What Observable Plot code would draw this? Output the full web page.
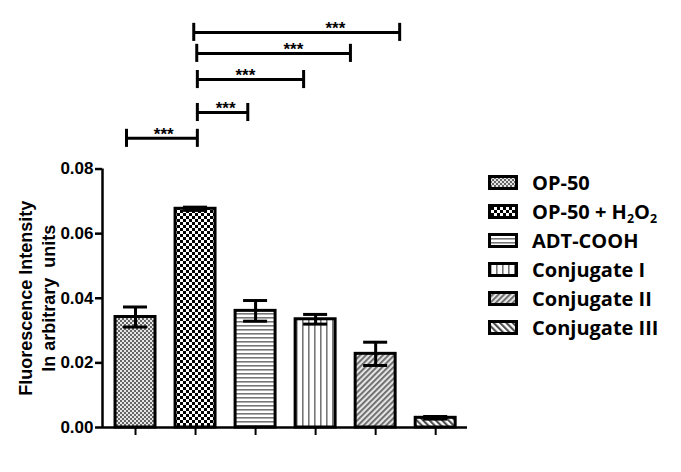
<!DOCTYPE html>
<html><head><meta charset="utf-8">
<script src="https://cdn.jsdelivr.net/npm/d3@7"></script>
<script src="https://cdn.jsdelivr.net/npm/@observablehq/plot@0.6"></script>
<style>
body{margin:0;background:#fff;}
#wrap{position:relative;width:681px;height:472px;}
#legend{position:absolute;left:488px;top:168px;font-family:"Open Sans",sans-serif;font-weight:700;font-size:20px;color:#000;}
.row{display:flex;align-items:center;height:29px;white-space:nowrap;}
.row svg{margin-right:14px;flex:none;}
.row sub{font-size:0.62em;vertical-align:-0.3em;line-height:0;}
</style></head><body>
<svg width="0" height="0" style="position:absolute"><defs>
<pattern id="p-op50" width="4" height="4" patternUnits="userSpaceOnUse"><rect width="4" height="4" fill="#e6e6e6"/><rect width="2" height="2" fill="#666"/><rect x="2" y="2" width="2" height="2" fill="#666"/></pattern>
<pattern id="p-h2o2" width="6" height="6" patternUnits="userSpaceOnUse"><rect width="6" height="6" fill="#fff"/><rect width="3" height="3" fill="#000"/><rect x="3" y="3" width="3" height="3" fill="#000"/></pattern>
<pattern id="p-adt" width="4" height="4" patternUnits="userSpaceOnUse"><rect width="4" height="4" fill="#fff"/><rect y="1" width="4" height="1.6" fill="#777"/></pattern>
<pattern id="p-conj1" width="6" height="6" patternUnits="userSpaceOnUse"><rect width="6" height="6" fill="#fff"/><rect x="2" width="1.6" height="6" fill="#777"/></pattern>
<pattern id="p-conj2" width="4" height="4" patternUnits="userSpaceOnUse" patternTransform="rotate(45)"><rect width="4" height="4" fill="#e4e4e4"/><rect x="1" width="1.8" height="4" fill="#666"/></pattern>
<pattern id="p-conj3" width="4.5" height="4.5" patternUnits="userSpaceOnUse" patternTransform="rotate(-45)"><rect width="4.5" height="4.5" fill="#fff"/><rect x="1" width="2" height="4.5" fill="#444"/></pattern>
</defs></svg>
<div id="wrap"><div id="legend"></div></div>
<script>
const groups = ["OP-50", "OP-50 + H2O2", "ADT-COOH", "Conjugate I", "Conjugate II", "Conjugate III"];
const legendLabels = ["OP-50", "OP-50 + H<sub>2</sub>O<sub>2</sub>", "ADT-COOH", "Conjugate I", "Conjugate II", "Conjugate III"];
const values = [0.0342, 0.0677, 0.0361, 0.0335, 0.0228, 0.0030];
const errors = [0.0031, 0.0005, 0.0032, 0.0015, 0.0036, 0.0004];
const patterns = ["p-op50", "p-h2o2", "p-adt", "p-conj1", "p-conj2", "p-conj3"];
const yTicks = [0, 0.02, 0.04, 0.06, 0.08];
// significance brackets (x in bar-index units, y in data units)
const bracketFrom = [0.85, 2.03, 2.03, 2.02, 1.97];
const bracketTo = [2.03, 2.87, 3.80, 4.58, 5.40];
const bracketLevel = [0.0895, 0.0975, 0.1077, 0.1158, 0.1223];
const starsAt = [1.47, 2.50, 2.83, 3.63, 4.33];
const starLabels = ["***", "***", "***", "***", "***"];

const data = groups.map((g, k) => ({g, i: k + 1, v: values[k], e: errors[k], p: `url(#${patterns[k]})`}));
const br = bracketFrom.map((a, k) => ({a, b: bracketTo[k], y: bracketLevel[k], s: starsAt[k], t: starLabels[k]}));
const x0 = 0.45, x1 = 6.53;
const halfBar = 0.333, halfCap = 0.2, tickHalf = 0.0028;

const plot = Plot.plot({
  width: 681, height: 472,
  marginLeft: 102, marginRight: 214, marginTop: 7, marginBottom: 45,
  style: {fontFamily: "'Liberation Sans', Arial, sans-serif", background: "white", color: "black"},
  x: {domain: [x0, x1], axis: null},
  y: {domain: [0, 0.13], axis: null},
  color: {type: "identity"},
  marks: [
    Plot.rectY(data, {x1: d => d.i - halfBar, x2: d => d.i + halfBar, y: "v", fill: "p", stroke: "black", strokeWidth: 3}),
    Plot.ruleX(data, {x: "i", y1: d => d.v - d.e, y2: d => d.v + d.e, strokeWidth: 3}),
    Plot.ruleY(data, {y: d => d.v + d.e, x1: d => d.i - halfCap, x2: d => d.i + halfCap, strokeWidth: 3}),
    Plot.ruleY(data, {y: d => d.v - d.e, x1: d => d.i - halfCap, x2: d => d.i + halfCap, strokeWidth: 3}),
    Plot.ruleX([x0], {y1: 0, y2: yTicks[yTicks.length - 1], strokeWidth: 2.5}),
    Plot.ruleY([0], {x1: x0, x2: x1, strokeWidth: 2.5}),
    Plot.axisY({ticks: yTicks, tickFormat: d3.format(".2f"), tickSize: 7, tickPadding: 2, fontSize: 17, fontWeight: "bold", label: null, strokeWidth: 2.5}),
    Plot.axisX({ticks: data.map(d => d.i), tickFormat: () => "", tickSize: 8, label: null, strokeWidth: 2}),
    Plot.text(["Fluorescence Intensity\nIn arbitrary\u00a0 units"], {x: x0, y: 0.04, dx: -66, rotate: -90, fontSize: 18, fontWeight: "bold", lineHeight: 1.25}),
    Plot.ruleY(br, {y: "y", x1: "a", x2: "b", strokeWidth: 3}),
    Plot.ruleX(br, {x: "a", y1: d => d.y - tickHalf, y2: d => d.y + tickHalf, strokeWidth: 3}),
    Plot.ruleX(br, {x: "b", y1: d => d.y - tickHalf, y2: d => d.y + tickHalf, strokeWidth: 3}),
    Plot.text(br, {x: "s", y: "y", text: "t", dy: -4, fontSize: 17, fontWeight: "bold"})
  ]
});
document.getElementById("wrap").prepend(plot);

const legend = document.getElementById("legend");
legendLabels.forEach((lab, k) => {
  const row = document.createElement("div");
  row.className = "row";
  row.innerHTML = `<svg width="30" height="15"><rect x="1.5" y="1.5" width="27" height="12" fill="url(#${patterns[k]})" stroke="black" stroke-width="3"/></svg><span>${lab}</span>`;
  legend.appendChild(row);
});
</script>
</body></html>
